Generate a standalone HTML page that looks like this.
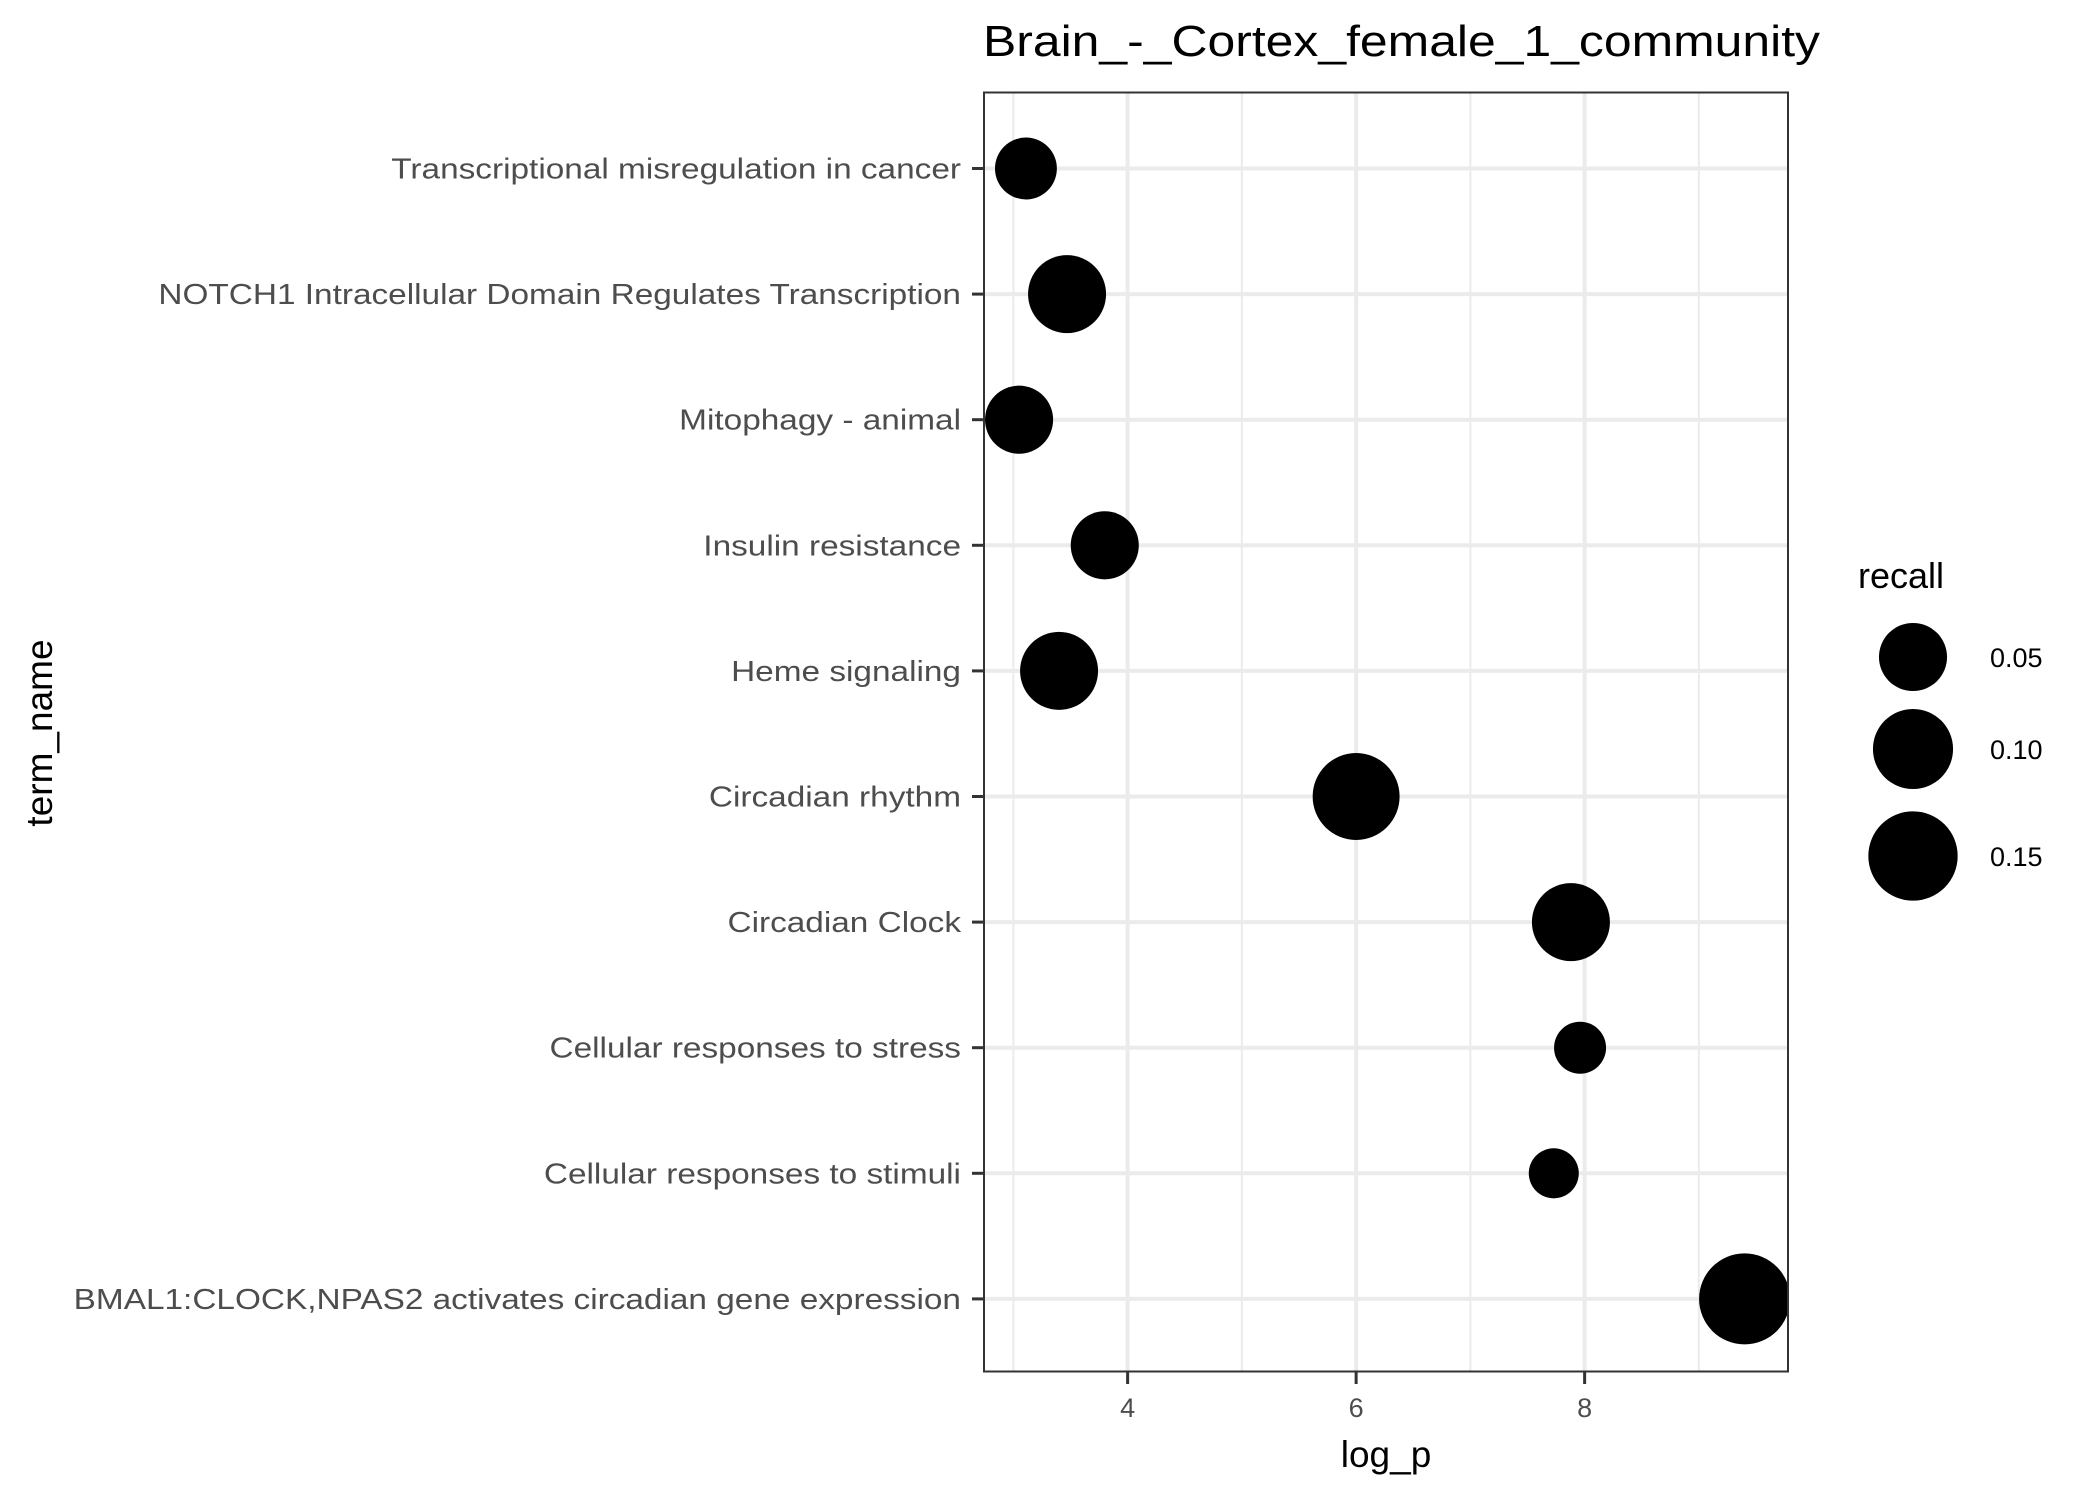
<!DOCTYPE html>
<html><head><meta charset="utf-8"><style>
html,body{margin:0;padding:0;background:#fff;}
svg{display:block;font-family:"Liberation Sans",Arial,sans-serif;}
</style></head><body>
<svg id="chart" width="2100" height="1499" viewBox="0 0 2100 1499" xmlns="http://www.w3.org/2000/svg">
<rect width="2100" height="1499" fill="#fff"/>
<text x="983" y="56" font-size="44" fill="#000" textLength="837" lengthAdjust="spacingAndGlyphs">Brain_-_Cortex_female_1_community</text>
<g id="grid"></g>
<g id="marks"></g>
<rect x="984" y="92.5" width="804" height="1279" fill="none" stroke="#333" stroke-width="2"/>
<g id="axes"></g>
<text x="1386" y="1467" font-size="37" text-anchor="middle" fill="#000">log_p</text>
<text transform="translate(52,733) rotate(-90)" font-size="37" text-anchor="middle" fill="#000">term_name</text>
<g id="legend">
<text x="1858" y="588" font-size="36" fill="#000">recall</text>
</g>
</svg>
<script>
const terms = ["Transcriptional misregulation in cancer","NOTCH1 Intracellular Domain Regulates Transcription","Mitophagy - animal","Insulin resistance","Heme signaling","Circadian rhythm","Circadian Clock","Cellular responses to stress","Cellular responses to stimuli","BMAL1:CLOCK,NPAS2 activates circadian gene expression"];
const logP = [3.11, 3.47, 3.05, 3.80, 3.40, 6.00, 7.88, 7.96, 7.73, 9.40];
const recall = [0.031, 0.09, 0.05, 0.05, 0.09, 0.136, 0.09, 0.01, 0.0072, 0.16];
const xTicks = [4, 6, 8];
const xMinor = [3, 5, 7, 9];
const legendValues = [0.05, 0.10, 0.15];
const legendLabels = ["0.05", "0.10", "0.15"];

const NS = "http://www.w3.org/2000/svg";
const X0 = 984, X1 = 1788, DMIN = 2.743, DMAX = 9.78;
const xScale = v => X0 + (v - DMIN) / (DMAX - DMIN) * (X1 - X0);
const yScale = i => 168.5 + i * 125.6;
const rScale = v => 19.5 + 65 * Math.sqrt(v);
function mk(tag, attrs, parent) {
  const e = document.createElementNS(NS, tag);
  for (const k in attrs) e.setAttribute(k, attrs[k]);
  parent.appendChild(e);
  return e;
}
const grid = document.getElementById('grid');
const marks = document.getElementById('marks');
const axes = document.getElementById('axes');
const legend = document.getElementById('legend');

xMinor.forEach(v => {
  const l = mk('line', {x1: xScale(v), x2: xScale(v), y1: 93, y2: 1371, stroke: '#ebebeb', 'stroke-width': 2}, grid);
  
  
});
xTicks.forEach(v => {
  const l = mk('line', {x1: xScale(v), x2: xScale(v), y1: 93, y2: 1371, stroke: '#ebebeb', 'stroke-width': 4}, grid);
  
  
  const t = mk('line', {x1: xScale(v), x2: xScale(v), y1: 1372, y2: 1384, stroke: '#333', 'stroke-width': 3}, axes);
  
  
  const tx = mk('text', {x: xScale(v), y: 1417, 'font-size': 27, 'text-anchor': 'middle', fill: '#4d4d4d'}, axes);
  tx.textContent = String(v);
  
  
});
terms.forEach((name, i) => {
  const y = yScale(i);
  const g = mk('line', {x1: X0, x2: X1, y1: y, y2: y, stroke: '#ebebeb', 'stroke-width': 4}, grid);
  
  
  const t = mk('line', {x1: 972, x2: 984, y1: y, y2: y, stroke: '#333', 'stroke-width': 3}, axes);
  
  
  const tx = mk('text', {x: 961, y: y + 10, 'font-size': 29, 'text-anchor': 'end', fill: '#4d4d4d'}, axes);
  tx.textContent = name;
  
  
  const w = tx.getComputedTextLength();
  tx.setAttribute('textLength', (w * 1.15).toFixed(1));
  tx.setAttribute('lengthAdjust', 'spacingAndGlyphs');
});
const clip = mk('clipPath', {id: 'pc'}, document.getElementById('chart'));
mk('rect', {x: X0, y: 92.5, width: X1 - X0, height: 1279}, clip);
marks.setAttribute('clip-path', 'url(#pc)');
logP.forEach((v, i) => {
  const c = mk('circle', {cx: xScale(v), cy: yScale(i), r: rScale(recall[i]), fill: '#000'}, marks);
  
  
});
const legY = [657, 749, 856];
legendValues.forEach((v, i) => {
  const c = mk('circle', {cx: 1913, cy: legY[i], r: rScale(v), fill: '#000'}, legend);
  
  
  const t = mk('text', {x: 1990, y: legY[i] + 10, 'font-size': 27, fill: '#000'}, legend);
  t.textContent = legendLabels[i];
  
  
});
</script>
</body></html>
